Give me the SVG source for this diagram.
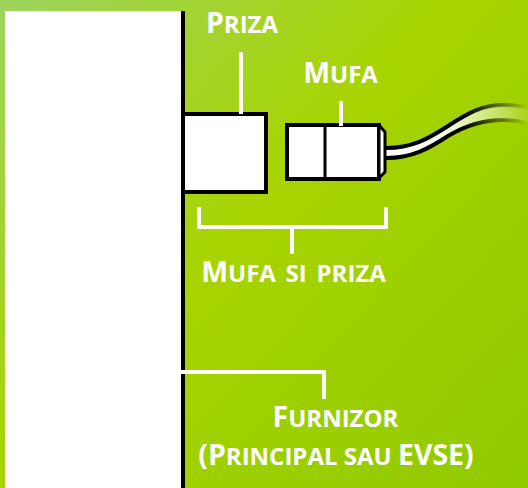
<svg xmlns="http://www.w3.org/2000/svg" width="528" height="488" viewBox="0 0 528 488">
<style>
.lbl{font-family:"Open Sans","Liberation Sans",sans-serif;font-weight:700;font-size:28.5px;fill:#fff;text-anchor:middle}
.sc{font-size:24px}
.lead{fill:none;stroke:#fff;stroke-width:4}
.body{fill:#fff;stroke:#000;stroke-width:4}
</style>
<defs>
<linearGradient id="bg" gradientUnits="userSpaceOnUse" x1="0" y1="0" x2="528" y2="488">
<stop offset="0" stop-color="#9dd45f"/><stop offset="0.46" stop-color="#a8d400"/><stop offset="1" stop-color="#8fca00"/>
</linearGradient>
<linearGradient id="cableOuter" gradientUnits="userSpaceOnUse" x1="386" y1="0" x2="528" y2="0">
<stop offset="0" stop-color="#000"/><stop offset="0.55" stop-color="#000"/><stop offset="1" stop-color="#000" stop-opacity="0"/>
</linearGradient>
<linearGradient id="cableInner" gradientUnits="userSpaceOnUse" x1="386" y1="0" x2="528" y2="0">
<stop offset="0" stop-color="#fff"/><stop offset="0.35" stop-color="#fff"/><stop offset="1" stop-color="#fff" stop-opacity="0.1"/>
</linearGradient>
</defs>
<rect width="528" height="488" fill="url(#bg)"/>
<g id="supply">
<rect x="5" y="11" width="176" height="477" fill="#fff"/>
<rect x="181" y="11" width="4" height="477" fill="#000"/>
</g>
<g id="cable">
<path d="M386 149C412 149 428 140 448 127C468 114 482 106 503 106C512 106 520 107 528 109L528 122C520 120 512 119 503 119C485 119 468 123 448 135C428 148 412 157 386 157Z" fill="url(#cableInner)"/>
<path d="M386 148C412 148 428 139 448 126C468 113 482 105 503 105C512 105 520 106 528 108M386 158C412 158 428 149 448 136C468 124 485 120 503 120C512 120 520 121 528 123" fill="none" stroke="url(#cableOuter)" stroke-width="4"/>
</g>
<g id="socket"><rect class="body" x="183" y="114" width="83" height="78"/></g>
<g id="plug">
<rect class="body" x="287" y="125" width="92" height="54"/>
<line x1="325" y1="125" x2="325" y2="179" stroke="#000" stroke-width="3"/>
<path d="M379 125L385 132V172L379 178Z" fill="#fff" stroke="#000" stroke-width="3" stroke-linejoin="round"/>
</g>
<g id="connectors">
<path class="lead" d="M241 52V114"/>
<path class="lead" d="M341 101V126"/>
<path class="lead" d="M199 207V227H386V207M292 227V254"/>
<path class="lead" d="M181 372H324V399"/>
</g>
<g id="labels">
<text class="lbl" x="242" y="33">P<tspan class="sc">RIZA</tspan></text>
<text class="lbl" x="340.5" y="83">M<tspan class="sc">UFA</tspan></text>
<text class="lbl" x="293.5" y="282" word-spacing="3.5">M<tspan class="sc">UFA SI PRIZA</tspan></text>
<text class="lbl" x="335.5" y="427">F<tspan class="sc">URNIZOR</tspan></text>
<text class="lbl" x="336" y="465">(P<tspan class="sc">RINCIPAL SAU </tspan>EVSE)</text>
</g>
</svg>
